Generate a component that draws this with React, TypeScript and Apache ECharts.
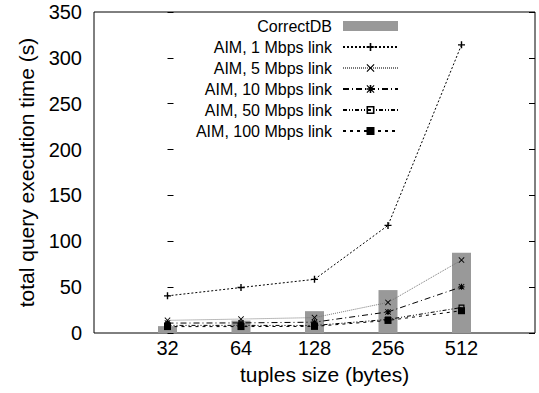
import React, { useEffect, useRef } from 'react';
import * as echarts from 'echarts';

const categories = ['32', '64', '128', '256', '512'];
const correctDB = [7.5, 13.5, 23.8, 46.8, 87.4];
const aim1 = [40.5, 49.6, 58.5, 117.3, 314.2];
const aim5 = [13.8, 15.2, 16.8, 33.3, 79.5];
const aim10 = [10.8, 11, 11.8, 23, 50.3];
const aim50 = [8.3, 8.3, 8.2, 14.8, 27.8];
const aim100 = [7, 7, 7.2, 13.7, 24.3];
const yMax = 350;
const yStep = 50;

const FONT = 'Liberation Sans, Arial, Helvetica, sans-serif';

const PLUS = 'path://M4,0H6V4H10V6H6V10H4V6H0V4H4Z';
const CROSS = 'path://M0,1L1,0L5,4L9,0L10,1L6,5L10,9L9,10L5,6L1,10L0,9L4,5Z';
const STAR = PLUS + ' ' + CROSS.replace('path://', '');
const OPENBOX = 'path://M0,0H10V10H0Z M2,2V8H8V2Z';

const toXY = (arr: number[]) => arr.map((v, i) => [i, v]);

export default function App() {
  const ref = useRef<HTMLDivElement>(null);
  useEffect(() => {
    if (!ref.current) return;
    const chart = echarts.init(ref.current, null, { renderer: 'svg' });
    const lineSeries = (name: string, data: number[], symbol: string, size: number, lineColor: string, dash: number[]) => ({
      name,
      type: 'line',
      data: toXY(data),
      symbol,
      symbolSize: size,
      z: 3,
      itemStyle: { color: '#000' },
      lineStyle: { color: lineColor, width: 1, type: dash },
      emphasis: { disabled: true },
    });
    chart.setOption({
      animation: false,
      textStyle: { fontFamily: FONT, color: '#000' },
      grid: {
        left: 94,
        right: 4,
        top: 12,
        bottom: 60,
        show: true,
        borderColor: '#000',
        borderWidth: 1,
        backgroundColor: 'transparent',
        outerBoundsMode: 'none',
      },
      legend: {
        orient: 'vertical',
        align: 'right',
        right: 140,
        top: 18,
        padding: 0,
        itemWidth: 55,
        itemHeight: 10,
        itemGap: 5,
        selectedMode: false,
        textStyle: { fontSize: 16, color: '#000', fontFamily: FONT, padding: [0, 6, 0, 0] },
        data: [
          { name: 'CorrectDB', icon: 'rect' },
          'AIM, 1 Mbps link',
          'AIM, 5 Mbps link',
          'AIM, 10 Mbps link',
          'AIM, 50 Mbps link',
          'AIM, 100 Mbps link',
        ],
      },
      xAxis: {
        type: 'value',
        min: -1,
        max: 5,
        axisLine: { show: false },
        axisTick: { show: false },
        splitLine: { show: false },
        axisLabel: {
          customValues: [0, 1, 2, 3, 4],
          formatter: (v: number) => categories[Math.round(v)] ?? '',
          fontSize: 20,
          color: '#000',
          margin: 5,
          fontFamily: FONT,
        },
        name: 'tuples size (bytes)',
        nameLocation: 'middle',
        nameGap: 31,
        nameTextStyle: { fontSize: 21, color: '#000', fontFamily: FONT, padding: [0, 0, 0, 20] },
      },
      yAxis: [
        {
          type: 'value',
          min: 0,
          max: yMax,
          interval: yStep,
          position: 'left',
          axisLine: { show: false },
          axisTick: { show: true, inside: true, length: 6, lineStyle: { color: '#000' } },
          splitLine: { show: false },
          axisLabel: { fontSize: 20, color: '#000', margin: 12, fontFamily: FONT },
          name: 'total query execution time (s)',
          nameLocation: 'middle',
          nameGap: 57,
          nameTextStyle: { fontSize: 21, color: '#000', fontFamily: FONT },
        },
        {
          type: 'value',
          min: 0,
          max: yMax,
          interval: yStep,
          position: 'right',
          axisLine: { show: false },
          axisTick: { show: true, inside: true, length: 6, lineStyle: { color: '#000' } },
          splitLine: { show: false },
          axisLabel: { show: false },
        },
      ],
      series: [
        {
          name: 'CorrectDB',
          type: 'bar',
          data: toXY(correctDB),
          barWidth: 19,
          z: 1,
          itemStyle: { color: '#999999' },
          emphasis: { disabled: true },
        },
        lineSeries('AIM, 1 Mbps link', aim1, PLUS, 7, '#000', [2, 2]),
        lineSeries('AIM, 5 Mbps link', aim5, CROSS, 6, '#777', [1, 1]),
        lineSeries('AIM, 10 Mbps link', aim10, STAR, 6, '#000', [6, 3, 1, 3]),
        lineSeries('AIM, 50 Mbps link', aim50, OPENBOX, 6, '#000', [4, 2, 1, 2, 1, 2]),
        lineSeries('AIM, 100 Mbps link', aim100, 'rect', 7, '#000', [3, 4]),
      ],
    });
    return () => chart.dispose();
  }, []);
  return <div ref={ref} style={{ width: 539, height: 393, position: 'absolute', left: 0, top: 0 }} />;
}
